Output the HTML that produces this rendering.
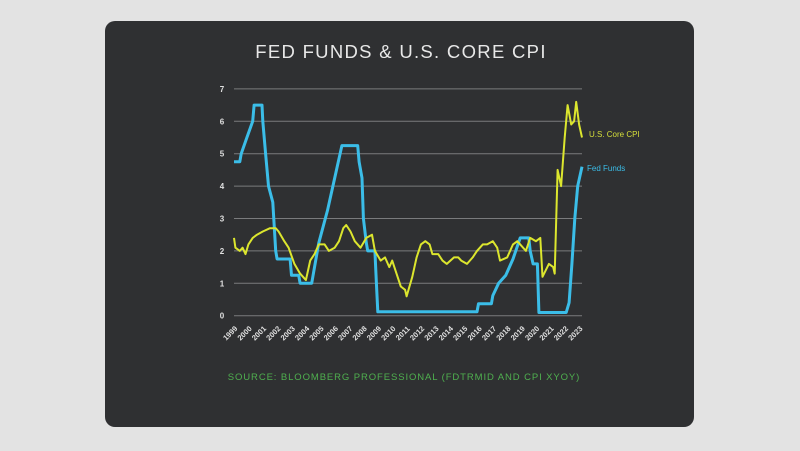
<!DOCTYPE html>
<html><head><meta charset="utf-8"><style>
html,body{margin:0;padding:0;width:800px;height:451px;overflow:hidden;background:#e4e4e4;}
</style></head><body>
<svg id="s" width="800" height="451" xmlns="http://www.w3.org/2000/svg" font-family="Liberation Sans, sans-serif">
<rect x="0" y="0" width="800" height="451" fill="#e3e3e3"/>
<rect x="105" y="21" width="589" height="406" rx="10" fill="#2f3032"/>
<text x="401" y="58" fill="#e8e8e8" font-size="18.5" text-anchor="middle" letter-spacing="1.3">FED FUNDS &amp; U.S. CORE CPI</text>
<g id="grid"></g>
<path id="fed" fill="none" stroke="#3bbde8" stroke-width="3" stroke-linejoin="round"/>
<path id="cpi" fill="none" stroke="#dce62e" stroke-width="2" stroke-linejoin="round"/>
<text x="589" y="137" fill="#d6df3a" font-size="8">U.S. Core CPI</text>
<text x="587" y="171" fill="#3bbde8" font-size="8">Fed Funds</text>
<text x="404" y="380" fill="#4fb04f" font-size="9.5" text-anchor="middle" letter-spacing="0.9">SOURCE: BLOOMBERG PROFESSIONAL (FDTRMID AND CPI XYOY)</text>
</svg>
<script>
var X0=234,X1=582,T0=1999,T1=2023.2,Y0=315.7,YS=32.4;
function px(t){return X0+(t-T0)*(X1-X0)/(T1-T0);}
function py(v){return Y0-v*YS;}
var g='';
for(var i=0;i<=7;i++){var y=py(i);g+='<line x1="234" x2="582" y1="'+y+'" y2="'+y+'" stroke="#7a7b7d" stroke-width="1"/>';
g+='<text x="222" y="'+(y+3)+'" fill="#e0e0e0" font-size="8" font-weight="bold" text-anchor="middle">'+i+'</text>';}
for(var yr=1999;yr<=2023;yr++){var x=px(yr)-2;g+='<text transform="translate('+x+',335) rotate(-45)" fill="#e0e0e0" font-size="7.5" font-weight="bold" text-anchor="middle">'+yr+'</text>';}
document.getElementById('grid').innerHTML=g;
var fed=[1999.0,4.75,1999.4,4.75,1999.5,5.0,1999.9,5.5,2000.3,6.0,2000.4,6.5,2000.95,6.5,2001.0,6.0,2001.2,5.0,2001.4,4.0,2001.7,3.5,2001.9,2.0,2002.0,1.75,2002.9,1.75,2003.0,1.25,2003.5,1.25,2003.6,1.0,2004.4,1.0,2004.5,1.25,2004.9,2.25,2005.5,3.25,2006.0,4.25,2006.5,5.25,2007.6,5.25,2007.7,4.75,2007.9,4.25,2008.0,3.0,2008.2,2.25,2008.3,2.0,2008.8,2.0,2008.9,1.0,2009.0,0.12,2015.9,0.12,2016.0,0.37,2016.9,0.37,2017.0,0.62,2017.4,1.0,2017.9,1.25,2018.4,1.75,2018.9,2.4,2019.5,2.4,2019.6,2.0,2019.8,1.6,2020.1,1.6,2020.2,0.1,2022.1,0.1,2022.3,0.4,2022.5,1.6,2022.7,3.0,2022.9,4.0,2023.2,4.6];
var cpi=[1999.0,2.4,1999.1,2.1,1999.4,2.0,1999.6,2.1,1999.8,1.9,2000.0,2.2,2000.3,2.4,2000.6,2.5,2001.0,2.6,2001.5,2.7,2001.9,2.7,2002.1,2.6,2002.5,2.3,2002.8,2.1,2003.2,1.6,2003.6,1.3,2004.0,1.1,2004.3,1.7,2004.6,1.9,2004.9,2.2,2005.3,2.2,2005.6,2.0,2006.0,2.1,2006.3,2.3,2006.6,2.7,2006.8,2.8,2007.1,2.6,2007.4,2.3,2007.8,2.1,2008.2,2.4,2008.6,2.5,2008.8,2.0,2009.2,1.7,2009.5,1.8,2009.8,1.5,2010.0,1.7,2010.3,1.3,2010.6,0.9,2010.9,0.8,2011.0,0.6,2011.4,1.2,2011.7,1.8,2012.0,2.2,2012.3,2.3,2012.6,2.2,2012.8,1.9,2013.2,1.9,2013.5,1.7,2013.8,1.6,2014.3,1.8,2014.6,1.8,2014.8,1.7,2015.2,1.6,2015.6,1.8,2015.9,2.0,2016.3,2.2,2016.6,2.2,2017.0,2.3,2017.3,2.1,2017.5,1.7,2018.0,1.8,2018.4,2.2,2018.7,2.3,2018.9,2.2,2019.3,2.0,2019.6,2.4,2020.0,2.3,2020.3,2.4,2020.45,1.2,2020.9,1.6,2021.2,1.5,2021.3,1.3,2021.5,4.5,2021.75,4.0,2022.0,5.5,2022.2,6.5,2022.45,5.9,2022.65,6.0,2022.8,6.6,2023.0,5.9,2023.2,5.5];
function path(a){var d='';for(var i=0;i<a.length;i+=2){d+=(i?'L':'M')+px(a[i]).toFixed(1)+','+py(a[i+1]).toFixed(1);}return d;}
document.getElementById('fed').setAttribute('d',path(fed));
document.getElementById('cpi').setAttribute('d',path(cpi));
</script>
</body></html>
